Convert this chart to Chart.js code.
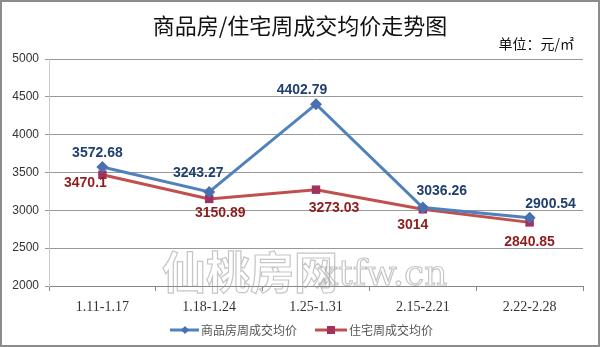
<!DOCTYPE html>
<html><head><meta charset="utf-8">
<script src="https://cdn.jsdelivr.net/npm/chart.js@4/dist/chart.umd.min.js"></script>
<style>html,body{margin:0;padding:0;background:#fff}#w{width:600px;height:347px;position:relative}</style>
</head><body><div id="w"><canvas id="c" width="600" height="347"></canvas></div>
<script>
const categories = ["1.11-1.17","1.18-1.24","1.25-1.31","2.15-2.21","2.22-2.28"];
const commercialAvg = [3572.68, 3243.27, 4402.79, 3036.26, 2900.54];
const residentialAvg = [3470.1, 3150.89, 3273.03, 3014, 2840.85];
const seriesNames = ["商品房周成交均价", "住宅周成交均价"];
const yTicks = [2000, 2500, 3000, 3500, 4000, 4500, 5000];
const titleText = "商品房/住宅周成交均价走势图";
const unitText = "单位：元/㎡";

const BLUE = "#4F81BD", RED = "#C0504D";
const labelOffsets = [
  [[-5,-14],[-11,-19],[-14,-14],[19,-16],[21,-14]],
  [[-17,8],[11,14],[18,18],[-10,16],[0,20]]
];

const decor = {
  id: "decor",
  beforeDraw(chart) {
    const ctx = chart.ctx;
    ctx.save();
    ctx.fillStyle = "#fff";
    ctx.fillRect(0,0,600,347);
    ctx.restore();
  },
  afterDraw(chart) {
    const ctx = chart.ctx;
    ctx.save();
    // frame
    ctx.strokeStyle = "#8c8c8c"; ctx.lineWidth = 2;
    ctx.strokeRect(1,1,598,345);
    // title
    ctx.fillStyle = "#111";
    ctx.textAlign = "center"; ctx.textBaseline = "middle";
    ctx.font = "22px 'Noto Sans CJK SC'";
    ctx.fillText(titleText, 300, 26);
    ctx.font = "14px 'Noto Sans CJK SC'";
    ctx.textAlign = "right";
    ctx.fillText(unitText, 574, 44);
    // data labels
    ctx.font = "bold 14px 'Liberation Sans', Arial";
    ctx.textAlign = "center";
    chart.data.datasets.forEach((ds, di) => {
      const meta = chart.getDatasetMeta(di);
      ctx.fillStyle = di === 0 ? "#1F3F6E" : "#8E1E1E";
      meta.data.forEach((pt, i) => {
        const o = labelOffsets[di][i];
        ctx.fillText(String(ds.data[i]), pt.x + o[0], pt.y + o[1]);
      });
    });
    // watermark
    ctx.strokeStyle = "rgba(150,150,150,0.55)"; ctx.lineWidth = 1.2;
    ctx.font = "bold 44px 'Noto Sans CJK SC'";
    ctx.textAlign = "left"; ctx.textBaseline = "alphabetic";
    ctx.strokeText("仙桃房网", 162, 289);
    ctx.font = "36px 'DejaVu Serif'";
    ctx.strokeText("xtfw.cn", 318, 285);
    // legend
    const ly = 330;
    ctx.lineWidth = 3;
    ctx.strokeStyle = BLUE;
    ctx.beginPath(); ctx.moveTo(170, ly); ctx.lineTo(199, ly); ctx.stroke();
    ctx.fillStyle = "#4A6FAF";
    ctx.beginPath(); ctx.moveTo(185, ly-4); ctx.lineTo(189, ly); ctx.lineTo(185, ly+4); ctx.lineTo(181, ly); ctx.closePath(); ctx.fill();
    ctx.strokeStyle = RED;
    ctx.beginPath(); ctx.moveTo(315, ly); ctx.lineTo(347, ly); ctx.stroke();
    ctx.fillStyle = "#A03262";
    ctx.fillRect(327, ly-4, 8, 8);
    ctx.fillStyle = "#555";
    ctx.font = "12px 'Noto Sans CJK SC'";
    ctx.textBaseline = "middle";
    ctx.fillText(seriesNames[0], 201, ly);
    ctx.fillText(seriesNames[1], 349, ly);
    ctx.restore();
  }
};

new Chart(document.getElementById("c"), {
  type: "line",
  data: {
    labels: categories,
    datasets: [
      { label: seriesNames[0], data: commercialAvg, borderColor: BLUE, backgroundColor: "#4A6FAF",
        borderWidth: 3, pointStyle: "rectRot", pointRadius: 6, pointBorderWidth: 0, tension: 0 },
      { label: seriesNames[1], data: residentialAvg, borderColor: RED, backgroundColor: "#A03262",
        borderWidth: 3, pointStyle: "rect", pointRadius: 6, pointBorderWidth: 0, tension: 0 }
    ]
  },
  options: {
    responsive: false, animation: false,
    layout: { padding: { left: 0, right: 17, top: 59, bottom: 28 } },
    plugins: { legend: { display: false }, title: { display: false }, tooltip: { enabled: false } },
    scales: {
      x: {
        offset: true,
        grid: { display: true, drawOnChartArea: false, offset: true, tickLength: 5, color: "#888" },
        border: { color: "#888", width: 1 },
        ticks: { color: "#333", font: { family: "'Liberation Serif', serif", size: 14 }, padding: 8, maxRotation: 0 },
        afterFit(s) { s.height = 33; }
      },
      y: {
        min: 2000, max: 5000,
        afterBuildTicks(s) { s.ticks = yTicks.map(v => ({ value: v })); },
        grid: { color: "#999", tickLength: 4, drawTicks: true },
        border: { color: "#ccc", width: 1 },
        ticks: { color: "#333", font: { family: "'Liberation Sans', Arial", size: 12 }, padding: 6,
                 callback: (v) => String(v) },
        afterFit(s) { s.width = 49; }
      }
    }
  },
  plugins: [decor]
});
</script></body></html>
